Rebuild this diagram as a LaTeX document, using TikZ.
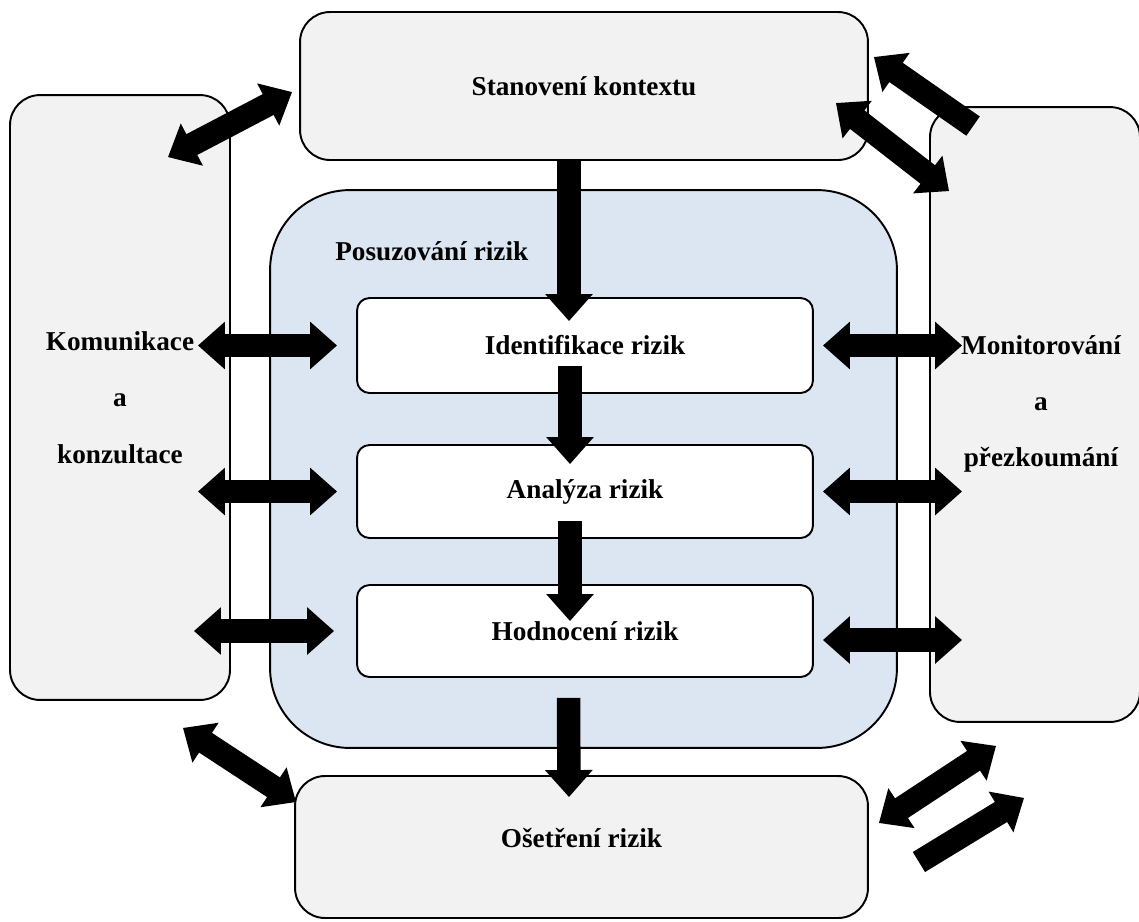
\documentclass[tikz,border=0pt]{standalone}
\usepackage{fontspec}
\setmainfont{Liberation Serif}
\usetikzlibrary{arrows.meta,calc}
\definecolor{boxgray}{HTML}{F2F2F2}
\definecolor{riskblue}{HTML}{DCE6F2}

\begin{document}
\begin{tikzpicture}[x=0.02cm, y=-0.02cm,
    box/.style={draw, line width=1.1pt, fill=boxgray, rounded corners=0.6cm, inner sep=0pt},
    inbox/.style={draw, line width=1.1pt, fill=white, rounded corners=0.25cm, minimum width=9.12cm, inner sep=0pt},
    lbl/.style={font=\fontsize{15.5}{32}\selectfont\bfseries, align=center},
    arr/.style={line width=0.47cm, -{Triangle[width=0.92cm,length=0.54cm]}},
    dblarr/.style={line width=0.47cm, {Triangle[width=0.92cm,length=0.54cm]}-{Triangle[width=0.92cm,length=0.54cm]}}]
    \useasboundingbox (0,0) rectangle (1139,921);

    % Outer boxes
    \node[box, lbl, minimum width=11.36cm, minimum height=2.96cm] (top) at (584,86) {Stanovení kontextu};
    \node[box, lbl, minimum width=4.4cm, minimum height=12.1cm] (kom) at (120,397.5) {Komunikace\\a\\konzultace};
    \node[box, minimum width=4.2cm, minimum height=12.3cm] (mon) at (1035,414.5) {};
    \node[lbl] (monlbl) at (1041,404) {Monitorování\\a\\přezkoumání};
    \node[box, minimum width=11.46cm, minimum height=2.84cm] (bot) at (581.5,847) {};
    \node[lbl] (botlbl) at ($(bot)+(0,-9)$) {Ošetření rizik};

    % Risk assessment
    \node[draw, line width=1.1pt, fill=riskblue, rounded corners=1.6cm, minimum width=12.54cm, minimum height=11.16cm] (pos) at (583.5,469) {};
    \node[lbl, anchor=west] (poslbl) at ($(pos.north west)+(60,62)$) {Posuzování rizik};
    \node[inbox, lbl, minimum height=1.9cm] (ident) at (585,345.5) {Identifikace rizik};
    \node[inbox, lbl, minimum height=1.86cm] (anal) at (585,491.5) {Analýza rizik};
    \node[inbox, lbl, minimum height=1.84cm] (hodn) at (585,631) {Hodnocení rizik};

    % Main flow
    \draw[arr] ($(top.south)+(-15,-2)$) -- ($(ident.north)+(-16,24)$);
    \draw[arr] ($(ident.south)+(-15,-28)$) -- ($(anal.north)+(-15,20)$);
    \draw[arr] ($(anal.south)+(-15,-18)$) -- ($(hodn.north)+(-15,37)$);
    \draw[arr] ($(pos.south)+(-15,-51)$) -- ($(bot.north)+(-12.5,22)$);

    % Communication side
    \foreach \n/\a/\b in {ident/33/19, anal/33/19, hodn/37/22} {
        \draw[dblarr] ($(kom.east|-\n.west)+(-\a,0)$) -- ($(\n.west)+(-\b,0)$);
    }

    % Monitoring side
    \draw[dblarr] ($(ident.east)+(9,0)$) -- ($(mon.west|-ident.east)+(33,0)$);
    \draw[dblarr] ($(anal.east)+(9,0)$) -- ($(mon.west|-anal.east)+(33,0)$);
    \draw[dblarr] ($(hodn.east)+(9,9)$) -- ($(mon.west|-hodn.east)+(33,9)$);

    % Corners
    \draw[dblarr] ($(kom.north east)+(-63,63)$) -- ($(top.west)+(-7,6)$);
    \draw[dblarr] ($(top.east)+(-33,17)$) -- ($(mon.north west)+(20,85)$);
    \draw[arr] ($(mon.north west)+(44,20)$) -- ($(top.east)+(5,-29)$);
    \draw[dblarr] ($(kom.south east)+(-48,27)$) -- ($(bot.north west)+(2,27)$);
    \draw[dblarr] ($(bot.east)+(10,-24)$) -- ($(mon.south west)+(67,23)$);
    \draw[arr] ($(bot.east)+(50,15)$) -- ($(mon.south west)+(95,75)$);
\end{tikzpicture}
\end{document}
